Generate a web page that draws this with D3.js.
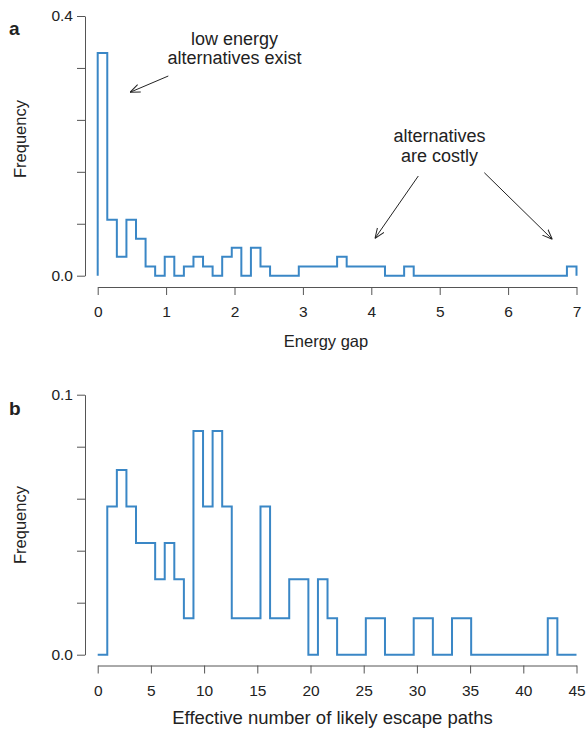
<!DOCTYPE html>
<html><head><meta charset="utf-8">
<script src="https://cdn.jsdelivr.net/npm/d3@7"></script>
<style>
body{margin:0;background:#fff;}
text{font-family:"Liberation Sans",Arial,Helvetica,sans-serif;fill:#222;}
</style></head>
<body>
<svg id="c" width="587" height="732"></svg>
<script>
// Panel a: energy gap histogram (50 bins of width 0.14 over 0..7)
const energyFreq = [0.343,0.086,0.029,0.086,0.057,0.014,0,0.029,0,0.014,0.029,0.014,0,0.029,0.043,0,0.043,0.014,
  0,0,0,0.014,0.014,0.014,0.014,0.029,0.014,0.014,0.014,0.014,0,0,0.014,
  0,0,0,0,0,0,0,0,0,0,0,0,0,0,0,0,0.014];
const energyTicks = [0,1,2,3,4,5,6,7];
const energyYTicks = [0,0.08,0.16,0.24,0.32,0.4];
const energyYLabels = {0:"0.0",0.4:"0.4"};

// Panel b: effective number of escape paths (50 bins of width 0.9 over 0..45)
const escapeFreq = [0,0.057,0.071,0.057,0.043,0.043,0.029,0.043,0.029,0.014,0.086,0.057,0.086,0.057,0.014,0.014,0.014,
  0.057,0.014,0.014,0.029,0.029,0,0.029,0.014,0,0,0,0.014,0.014,0,0,0,0.014,0.014,0,0,0.014,0.014,
  0,0,0,0,0,0,0,0,0.014,0,0];
const escapeTicks = [0,5,10,15,20,25,30,35,40,45];
const escapeYTicks = [0,0.02,0.04,0.06,0.08,0.1];
const escapeYLabels = {0:"0.0",0.1:"0.1"};

const svg = d3.select("#c");
const blue = "#3a87c6";
const axisCol = "#555";

function panel(opt){
  const g = svg.append("g");
  const x = d3.scaleLinear().domain(opt.xDomain).range([97.7,576.5]);
  const y = d3.scaleLinear().domain(opt.yDomain).range([opt.y0, opt.y1]);
  // y axis
  const ya = g.append("g").attr("transform","translate(85,0)")
    .call(d3.axisLeft(y).tickValues(opt.yTicks).tickSize(8).tickSizeOuter(0)
      .tickFormat(d => { for (const k in opt.yLabels) if (Math.abs(+k-d)<1e-9) return opt.yLabels[k]; return ""; }));
  ya.select(".domain").attr("stroke",axisCol);
  ya.selectAll(".tick line").attr("stroke",axisCol);
  ya.selectAll(".tick text").attr("font-size",15.5).attr("x",-12).attr("fill","#222").attr("font-family",null);
  // x axis
  const xa = g.append("g").attr("transform",`translate(0,${opt.xAxisY})`)
    .call(d3.axisBottom(x).tickValues(opt.xTicks).tickSize(8).tickSizeOuter(0).tickFormat(d3.format("d")));
  xa.select(".domain").attr("stroke",axisCol);
  xa.selectAll(".tick line").attr("stroke",axisCol);
  xa.selectAll(".tick text").attr("font-size",15.5).attr("dy",null).attr("y",opt.tickLabY-opt.xAxisY).attr("fill","#222").attr("font-family",null);
  // step histogram
  const n = opt.vals.length;
  const w = (opt.xDomain[1]-opt.xDomain[0])/n;
  const pts = [[x(0), y(0)]];
  opt.vals.forEach((v,i)=>{ pts.push([x(i*w), y(v)]); pts.push([x((i+1)*w), y(v)]); });
  pts.push([x(n*w), y(0)]);
  g.append("path").attr("d", d3.line()(pts)).attr("fill","none").attr("stroke",blue).attr("stroke-width",2).attr("stroke-linejoin","miter");
  // labels
  g.append("text").attr("x",opt.titleX).attr("y",opt.titleY).attr("text-anchor","middle").attr("font-size",opt.titleSize).text(opt.title);
  g.append("text").attr("transform",`translate(26,${opt.yLabY}) rotate(-90)`).attr("text-anchor","middle").attr("font-size",16.5).text("Frequency");
  g.append("text").attr("x",9).attr("y",opt.letterY).attr("font-size",19).attr("font-weight","bold").text(opt.letter);
  return {x,y};
}

panel({xDomain:[0,7], yDomain:[0,0.4], y0:275.7, y1:16, yTicks:energyYTicks, yLabels:energyYLabels,
  xTicks:energyTicks, xAxisY:287, tickLabY:316.5, vals:energyFreq, title:"Energy gap", titleX:326, titleY:347, titleSize:16.5,
  yLabY:139, letter:"a", letterY:35});
panel({xDomain:[0,45], yDomain:[0,0.1], y0:654.7, y1:394.7, yTicks:escapeYTicks, yLabels:escapeYLabels,
  xTicks:escapeTicks, xAxisY:665.5, tickLabY:696, vals:escapeFreq, title:"Effective number of likely escape paths", titleX:332.5, titleY:724, titleSize:18.5,
  yLabY:525, letter:"b", letterY:415});

// annotations
const defs = svg.append("defs");
defs.append("marker").attr("id","ah").attr("viewBox","0 0 10 10").attr("refX",10).attr("refY",5)
  .attr("markerWidth",10).attr("markerHeight",10).attr("markerUnits","userSpaceOnUse").attr("orient","auto")
  .append("path").attr("d","M0,1 L10,5 L0,9").attr("fill","none").attr("stroke","#222").attr("stroke-width",1);
function note(lines, cx, y0, lh){
  lines.forEach((t,i)=> svg.append("text").attr("x",cx).attr("y",y0+i*lh).attr("text-anchor","middle").attr("font-size",18).text(t));
}
note(["low energy","alternatives exist"], 234.5, 45, 18.5);
note(["alternatives","are costly"], 439.5, 141.7, 20);
const arrows = [[168.3,76,130,92.3],[418.3,176,375,238.3],[484.3,172.7,552.3,239.3]];
arrows.forEach(a => svg.append("line").attr("x1",a[0]).attr("y1",a[1]).attr("x2",a[2]).attr("y2",a[3])
  .attr("stroke","#222").attr("stroke-width",1).attr("marker-end","url(#ah)"));
</script>
</body></html>
